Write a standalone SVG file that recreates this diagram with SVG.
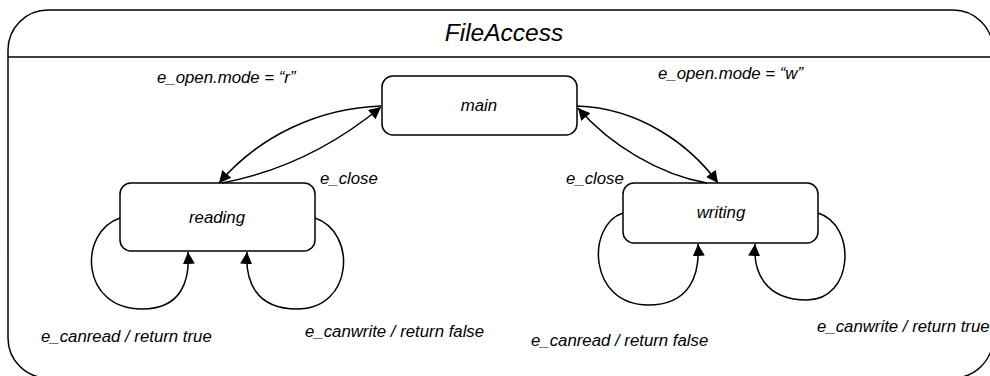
<svg xmlns="http://www.w3.org/2000/svg" width="990" height="376" viewBox="0 0 990 376">
<defs>
<marker id="ah" viewBox="0 0 10 10" refX="10" refY="5" markerWidth="12" markerHeight="12" markerUnits="userSpaceOnUse" orient="auto">
<path d="M0,0 L10,5 L0,10 z" fill="#000"/>
</marker>
<style>
.st{fill:#fff;stroke:#000;stroke-width:1.5}
.lbl{font-family:"Liberation Sans",Arial,sans-serif;font-style:italic;font-size:16.8px;fill:#000}
.c{fill:none;stroke:#000;stroke-width:1.5;marker-end:url(#ah)}
</style>
</defs>
<rect width="990" height="376" fill="#fff"/>
<g id="FileAccess">
<rect x="8" y="10" width="985" height="368" rx="40" ry="40" fill="#fff" stroke="#000" stroke-width="1.5"/>
<line x1="8" y1="57" x2="993" y2="57" stroke="#000" stroke-width="1.5"/>
<text x="504" y="41" text-anchor="middle" class="lbl" style="font-size:24.5px">FileAccess</text>
</g>
<g id="main">
<rect x="382" y="76" width="195" height="59" rx="11" class="st"/>
<text x="479" y="111" text-anchor="middle" class="lbl">main</text>
</g>
<g id="reading">
<rect x="120" y="183" width="195" height="68" rx="11" class="st"/>
<text x="217" y="223" text-anchor="middle" class="lbl">reading</text>
</g>
<g id="writing">
<rect x="623" y="183" width="195" height="60" rx="11" class="st"/>
<text x="721" y="218" text-anchor="middle" class="lbl">writing</text>
</g>
<g id="connectors">
<path class="c" d="M381,106 C320,108 260,135 219,183"/>
<path class="c" d="M222,183 C280,172 335,145 381,107"/>
<path class="c" d="M577,106 C640,108 690,145 718,183"/>
<path class="c" d="M707,183 C660,175 610,145 578,108"/>
<path class="c" d="M120,218 C78,232 80,309 142,309 C182,309 190,280 188,252"/>
<path class="c" d="M315,218 C357,232 354,309 297,309 C255,309 245,280 247,252"/>
<path class="c" d="M623,213 C586,225 588,305 648,305 C690,305 700,275 698,244"/>
<path class="c" d="M818,213 C857,225 854,300 807,300 C765,300 753,272 755,244"/>
</g>
<g id="labels">
<text x="157" y="83" class="lbl">e_open.mode = “r”</text>
<text x="658" y="79" class="lbl">e_open.mode = “w”</text>
<text x="320" y="184" class="lbl">e_close</text>
<text x="566" y="184" class="lbl">e_close</text>
<text x="41" y="342" class="lbl">e_canread / return true</text>
<text x="305" y="337" class="lbl">e_canwrite / return false</text>
<text x="531" y="346" class="lbl">e_canread / return false</text>
<text x="817" y="332" class="lbl">e_canwrite / return true</text>
</g>
</svg>
